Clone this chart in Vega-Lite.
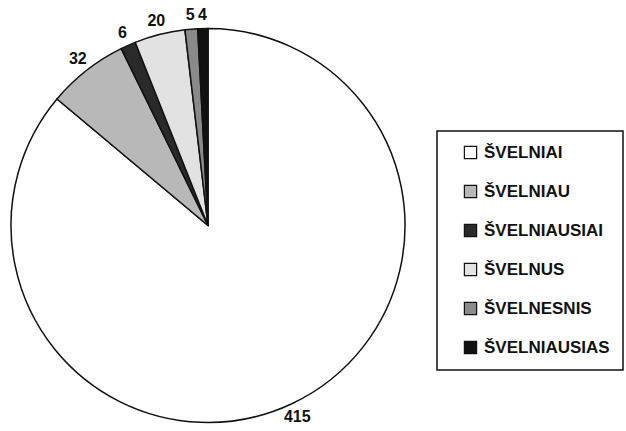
{
  "$schema": "https://vega.github.io/schema/vega-lite/v6.json",
  "autosize": "none",
  "width": 416,
  "height": 411,
  "padding": {"left": 0, "top": 20, "right": 210, "bottom": 0},
  "background": "white",
  "config": {
    "view": {"stroke": null},
    "font": "Liberation Sans",
    "legend": {"strokeColor": "#111", "strokeWidth": 1.5, "fillColor": "white", "padding": 13}
  },
  "data": {"values": [
    {"kategorija": "ŠVELNIAI", "kiekis": 415, "eil": 1},
    {"kategorija": "ŠVELNIAU", "kiekis": 32, "eil": 2},
    {"kategorija": "ŠVELNIAUSIAI", "kiekis": 6, "eil": 3},
    {"kategorija": "ŠVELNUS", "kiekis": 20, "eil": 4},
    {"kategorija": "ŠVELNESNIS", "kiekis": 5, "eil": 5},
    {"kategorija": "ŠVELNIAUSIAS", "kiekis": 4, "eil": 6}
  ]},
  "encoding": {
    "theta": {"field": "kiekis", "type": "quantitative", "stack": true},
    "order": {"field": "eil", "type": "quantitative"}
  },
  "layer": [
    {
      "mark": {"type": "arc", "outerRadius": 197, "stroke": "#111", "strokeWidth": 1.5},
      "encoding": {
        "color": {
          "field": "kategorija", "type": "nominal",
          "sort": ["ŠVELNIAI", "ŠVELNIAU", "ŠVELNIAUSIAI", "ŠVELNUS", "ŠVELNESNIS", "ŠVELNIAUSIAS"],
          "scale": {
            "domain": ["ŠVELNIAI", "ŠVELNIAU", "ŠVELNIAUSIAI", "ŠVELNUS", "ŠVELNESNIS", "ŠVELNIAUSIAS"],
            "range": ["#ffffff", "#b8b8b8", "#2a2a2a", "#e2e2e2", "#8a8a8a", "#111111"]
          },
          "legend": {
            "title": null,
            "orient": "none",
            "legendX": 437,
            "legendY": 111,
            "direction": "vertical",
            "symbolType": "square",
            "symbolSize": 150,
            "symbolStrokeColor": "#111",
            "symbolStrokeWidth": 1.2,
            "symbolOffset": 12,
            "labelFont": "Liberation Sans",
            "labelFontSize": 17,
            "labelFontWeight": "bold",
            "labelColor": "#111",
            "labelOffset": 5,
            "labelLimit": 250,
            "rowPadding": 20
          }
        }
      }
    },
    {
      "mark": {"type": "text", "radius": 211, "font": "Liberation Sans", "fontSize": 16, "fontWeight": "bold", "color": "#111"},
      "encoding": {"text": {"field": "kiekis", "type": "quantitative"}}
    }
  ]
}
